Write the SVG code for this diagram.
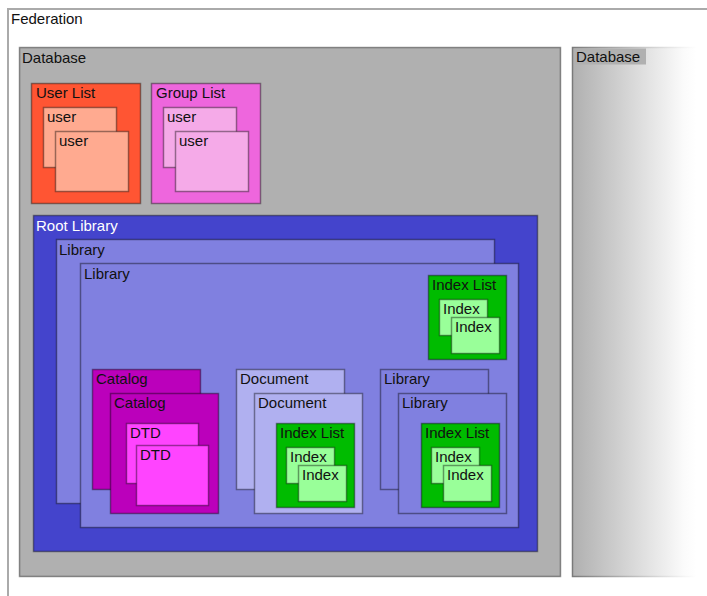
<svg xmlns="http://www.w3.org/2000/svg" width="707" height="596" viewBox="0 0 707 596">
  <defs>
    <linearGradient id="fadeFill" x1="0" y1="0" x2="1" y2="0">
      <stop offset="0" stop-color="#b0b0b0"/>
      <stop offset="0.9" stop-color="#fbfbfb"/>
      <stop offset="1" stop-color="#ffffff"/>
    </linearGradient>
    <linearGradient id="fadeStroke" x1="0" y1="0" x2="1" y2="0">
      <stop offset="0" stop-color="#7a7a7a"/>
      <stop offset="0.9" stop-color="#f4f4f4"/>
      <stop offset="1" stop-color="#ffffff"/>
    </linearGradient>
    <style>
      rect.box { stroke: #000; stroke-opacity: 0.4; stroke-width: 1.5; }
      text { font-family: "Liberation Sans", Arial, sans-serif; font-size: 15px; fill: #111; }
      text.light { fill: #fff; }
      .fed { fill: #fff; stroke: #aaa; stroke-width: 2; }
      .db { fill: #b0b0b0; }
      .userlist { fill: #ff5533; }
      .user { fill: #ffaa90; }
      .grouplist { fill: #ee66dd; }
      .guser { fill: #f5aae8; }
      .root { fill: #4444cc; }
      .lib { fill: #8080e0; }
      .doc { fill: #b0b0f0; }
      .cat { fill: #bb00bb; }
      .dtd { fill: #ff44ff; }
      .ilist { fill: #00bb00; }
      .idx { fill: #99ff99; }
    </style>
  </defs>

  <g id="federation">
    <rect class="fed" x="8" y="9" width="710" height="600"/>
    <text x="11" y="24">Federation</text>
  </g>

  <g id="database-1">
    <rect class="box db" x="19.5" y="47.5" width="541" height="529"/>
    <text x="22" y="63">Database</text>
  </g>

  <!-- second database, fading out to the right -->
  <g id="database-2">
    <rect x="572.5" y="47.5" width="124" height="529" fill="url(#fadeFill)" stroke="url(#fadeStroke)" stroke-width="1.5"/>
    <rect x="574" y="48.5" width="72" height="16" fill="#b0b0b0"/>
    <text x="576" y="62">Database</text>
  </g>

  <g id="user-list">
    <rect class="box userlist" x="31.5" y="83.5" width="109" height="120"/>
    <text x="36" y="98">User List</text>
  </g>
  <g id="user-1">
    <rect class="box user" x="43.5" y="107.5" width="73" height="60"/>
    <text x="47" y="122">user</text>
  </g>
  <g id="user-2">
    <rect class="box user" x="55.5" y="131.5" width="73" height="60"/>
    <text x="59" y="146">user</text>
  </g>

  <g id="group-list">
    <rect class="box grouplist" x="151.5" y="83.5" width="109" height="120"/>
    <text x="156" y="98">Group List</text>
  </g>
  <g id="group-user-1">
    <rect class="box guser" x="163.5" y="107.5" width="73" height="60"/>
    <text x="167" y="122">user</text>
  </g>
  <g id="group-user-2">
    <rect class="box guser" x="175.5" y="131.5" width="73" height="60"/>
    <text x="179" y="146">user</text>
  </g>

  <g id="root-library">
    <rect class="box root" x="33.5" y="215.5" width="504" height="336"/>
    <text class="light" x="36" y="231">Root Library</text>
  </g>
  <g id="library-1">
    <rect class="box lib" x="56.5" y="239.5" width="438" height="264"/>
    <text x="59" y="255">Library</text>
  </g>
  <g id="library-2">
    <rect class="box lib" x="80.5" y="263.5" width="438" height="264"/>
    <text x="84" y="279">Library</text>
  </g>

  <g id="index-list-a">
    <rect class="box ilist" x="428.5" y="275.5" width="78" height="84"/>
    <text x="432" y="290">Index List</text>
  </g>
  <g id="index-a1">
    <rect class="box idx" x="439.5" y="299.5" width="48" height="36"/>
    <text x="443" y="314">Index</text>
  </g>
  <g id="index-a2">
    <rect class="box idx" x="451.5" y="317.5" width="48" height="36"/>
    <text x="455" y="332">Index</text>
  </g>

  <g id="catalog-1">
    <rect class="box cat" x="92.5" y="369.5" width="108" height="120"/>
    <text x="96" y="384">Catalog</text>
  </g>
  <g id="catalog-2">
    <rect class="box cat" x="110.5" y="393.5" width="108" height="120"/>
    <text x="114" y="408">Catalog</text>
  </g>
  <g id="dtd-1">
    <rect class="box dtd" x="126.5" y="423.5" width="72" height="60"/>
    <text x="130" y="438">DTD</text>
  </g>
  <g id="dtd-2">
    <rect class="box dtd" x="136.5" y="445.5" width="72" height="60"/>
    <text x="140" y="460">DTD</text>
  </g>

  <g id="document-1">
    <rect class="box doc" x="236.5" y="369.5" width="108" height="120"/>
    <text x="240" y="384">Document</text>
  </g>
  <g id="document-2">
    <rect class="box doc" x="254.5" y="393.5" width="108" height="120"/>
    <text x="258" y="408">Document</text>
  </g>
  <g id="index-list-b">
    <rect class="box ilist" x="276.5" y="423.5" width="78" height="84"/>
    <text x="280" y="438">Index List</text>
  </g>
  <g id="index-b1">
    <rect class="box idx" x="286.5" y="447.5" width="48" height="36"/>
    <text x="290" y="462">Index</text>
  </g>
  <g id="index-b2">
    <rect class="box idx" x="298.5" y="465.5" width="48" height="36"/>
    <text x="302" y="480">Index</text>
  </g>

  <g id="library-3">
    <rect class="box lib" x="380.5" y="369.5" width="108" height="120"/>
    <text x="384" y="384">Library</text>
  </g>
  <g id="library-4">
    <rect class="box lib" x="398.5" y="393.5" width="108" height="120"/>
    <text x="402" y="408">Library</text>
  </g>
  <g id="index-list-c">
    <rect class="box ilist" x="421.5" y="423.5" width="78" height="84"/>
    <text x="425" y="438">Index List</text>
  </g>
  <g id="index-c1">
    <rect class="box idx" x="431.5" y="447.5" width="48" height="36"/>
    <text x="435" y="462">Index</text>
  </g>
  <g id="index-c2">
    <rect class="box idx" x="443.5" y="465.5" width="48" height="36"/>
    <text x="447" y="480">Index</text>
  </g>

  <g id="connectors"/>
</svg>
